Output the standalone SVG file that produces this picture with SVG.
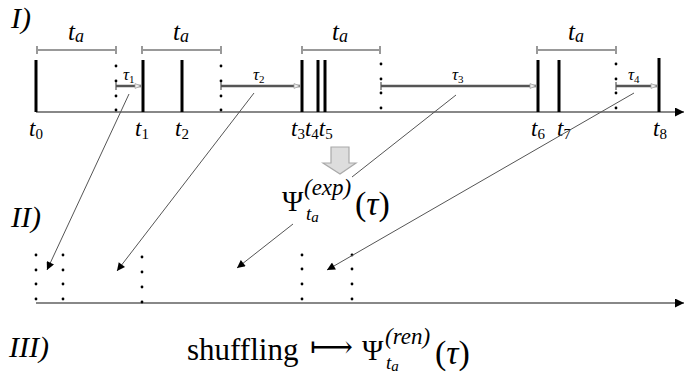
<svg xmlns="http://www.w3.org/2000/svg" width="691" height="378" viewBox="0 0 691 378">
<defs>
  <marker id="ah" viewBox="0 0 10 10" refX="10" refY="5" markerWidth="11" markerHeight="8" markerUnits="userSpaceOnUse" orient="auto">
    <path d="M0,0 L10,5 L0,10 Z" fill="#000"/>
  </marker>
  <marker id="axh" viewBox="0 0 10 10" refX="10" refY="5" markerWidth="10" markerHeight="9" markerUnits="userSpaceOnUse" orient="auto">
    <path d="M0,0 L10,5 L0,10 Z" fill="#000"/>
  </marker>
  <marker id="tah" viewBox="0 0 10 10" refX="10" refY="5" markerWidth="9" markerHeight="6" markerUnits="userSpaceOnUse" orient="auto">
    <path d="M0,1 L10,5 L0,9 Z" fill="#eee" stroke="#999" stroke-width="1.2"/>
  </marker>
</defs>
<style>
  .serif { font-family: "Liberation Serif", "DejaVu Serif", serif; fill: #000; }
  .it { font-style: italic; }
  .axis { stroke: #888; stroke-width: 2; fill: none; }
  .bar { stroke: #000; stroke-width: 3; }
  .brk { stroke: #999; stroke-width: 2; fill: none; }
  .tau { stroke: #555; stroke-width: 2.5; fill: none; }
  .tick { stroke: #777; stroke-width: 1.5; }
  .conn { stroke: #555; stroke-width: 1; fill: none; }
  .dot { fill: #000; }
</style>

<!-- section labels -->
<g id="labels-sections" class="serif it" font-size="30">
  <text x="11" y="28">I)</text>
  <text x="11" y="227">II)</text>
  <text x="9" y="357">III)</text>
</g>

<!-- timeline I -->
<g id="timeline-I">
  <line class="axis" x1="36" y1="112" x2="684" y2="112" marker-end="url(#axh)"/>
  <g id="events" class="bar">
    <line x1="36" y1="60" x2="36" y2="112"/>
    <line x1="143" y1="60" x2="143" y2="112"/>
    <line x1="182" y1="60" x2="182" y2="112"/>
    <line x1="302" y1="60" x2="302" y2="112"/>
    <line x1="318" y1="60" x2="318" y2="112"/>
    <line x1="325" y1="60" x2="325" y2="112"/>
    <line x1="538" y1="60" x2="538" y2="112"/>
    <line x1="559" y1="60" x2="559" y2="112"/>
    <line x1="659" y1="58" x2="659" y2="112"/>
  </g>
  <g id="event-labels" class="serif it" font-size="23">
    <text x="29" y="136">t<tspan font-size="15" dy="3" font-style="normal">0</tspan></text>
    <text x="135" y="136">t<tspan font-size="15" dy="3" font-style="normal">1</tspan></text>
    <text x="175" y="136">t<tspan font-size="15" dy="3" font-style="normal">2</tspan></text>
    <text x="291" y="136">t<tspan font-size="15" dy="3" font-style="normal">3</tspan><tspan dy="-3">t</tspan><tspan font-size="15" dy="3" font-style="normal">4</tspan><tspan dy="-3">t</tspan><tspan font-size="15" dy="3" font-style="normal">5</tspan></text>
    <text x="531" y="136">t<tspan font-size="15" dy="3" font-style="normal">6</tspan></text>
    <text x="557" y="136">t<tspan font-size="15" dy="3" font-style="normal">7</tspan></text>
    <text x="653" y="136">t<tspan font-size="15" dy="3" font-style="normal">8</tspan></text>
  </g>
  <g id="windows">
    <g class="brk">
      <path d="M37,50 H116 M37,46 V54 M116,46 V54"/>
      <path d="M142,50 H221 M142,46 V54 M221,46 V54"/>
      <path d="M302,50 H380 M302,46 V54 M380,46 V54"/>
      <path d="M537,50 H616 M537,46 V54 M616,46 V54"/>
    </g>
    <g class="serif it" font-size="25" text-anchor="middle">
      <text x="76" y="40">t<tspan font-size="18" dy="2">a</tspan></text>
      <text x="181" y="40">t<tspan font-size="18" dy="2">a</tspan></text>
      <text x="340" y="40">t<tspan font-size="18" dy="2">a</tspan></text>
      <text x="576" y="40">t<tspan font-size="18" dy="2">a</tspan></text>
    </g>
  </g>
  <g id="window-ends" class="dot">
    <circle cx="116" cy="66" r="1.4"/><circle cx="116" cy="81" r="1.4"/><circle cx="116" cy="96" r="1.4"/><circle cx="116" cy="110" r="1.4"/>
    <circle cx="221" cy="66" r="1.4"/><circle cx="221" cy="81" r="1.4"/><circle cx="221" cy="96" r="1.4"/><circle cx="221" cy="110" r="1.4"/>
    <circle cx="381" cy="64" r="1.4"/><circle cx="381" cy="79" r="1.4"/><circle cx="381" cy="93" r="1.4"/><circle cx="381" cy="108" r="1.4"/>
    <circle cx="616" cy="64" r="1.4"/><circle cx="616" cy="79" r="1.4"/><circle cx="616" cy="93" r="1.4"/><circle cx="616" cy="108" r="1.4"/>
  </g>
  <g id="waiting-times">
    <g class="tick">
      <line x1="116" y1="82" x2="116" y2="90"/>
      <line x1="221" y1="82" x2="221" y2="90"/>
      <line x1="381" y1="82" x2="381" y2="90"/>
      <line x1="616" y1="82" x2="616" y2="90"/>
    </g>
    <g class="tau">
      <line x1="116" y1="86" x2="141" y2="86" marker-end="url(#tah)"/>
      <line x1="221" y1="86" x2="300" y2="86" marker-end="url(#tah)"/>
      <line x1="381" y1="86" x2="536" y2="86" marker-end="url(#tah)"/>
      <line x1="616" y1="86" x2="657" y2="86" marker-end="url(#tah)"/>
    </g>
    <g class="serif it" font-size="17">
      <text x="123" y="80">τ<tspan font-size="11" dy="3" font-style="normal">1</tspan></text>
      <text x="253" y="80">τ<tspan font-size="11" dy="3" font-style="normal">2</tspan></text>
      <text x="452" y="80">τ<tspan font-size="11" dy="3" font-style="normal">3</tspan></text>
      <text x="628" y="80">τ<tspan font-size="11" dy="3" font-style="normal">4</tspan></text>
    </g>
  </g>
</g>

<!-- block arrow and Psi exp -->
<g id="block-arrow">
  <path d="M331,147 H349 V163 H356 L340,174 L323,163 H331 Z" fill="#ddd" stroke="#aaa" stroke-width="1.2"/>
</g>
<g id="psi-exp" class="serif">
  <text x="282" y="211" font-size="29">Ψ</text>
  <text x="304" y="195" font-size="23" class="it">(exp)</text>
  <text x="306" y="220" font-size="19" class="it">t<tspan font-size="15" dy="2">a</tspan></text>
  <text x="355" y="215" font-size="34">(<tspan class="it">τ</tspan>)</text>
</g>

<!-- timeline II -->
<g id="timeline-II">
  <line class="axis" x1="36" y1="303" x2="684" y2="303" marker-end="url(#axh)"/>
  <g class="dot">
    <circle cx="36" cy="255" r="1.4"/><circle cx="36" cy="270" r="1.4"/><circle cx="36" cy="284" r="1.4"/><circle cx="36" cy="299" r="1.4"/>
    <circle cx="63" cy="255" r="1.4"/><circle cx="63" cy="270" r="1.4"/><circle cx="63" cy="284" r="1.4"/><circle cx="63" cy="299" r="1.4"/>
    <circle cx="142" cy="257" r="1.4"/><circle cx="142" cy="272" r="1.4"/><circle cx="142" cy="287" r="1.4"/><circle cx="142" cy="302" r="1.4"/>
    <circle cx="302" cy="255" r="1.4"/><circle cx="302" cy="269" r="1.4"/><circle cx="302" cy="284" r="1.4"/><circle cx="302" cy="299" r="1.4"/>
    <circle cx="352" cy="255" r="1.4"/><circle cx="352" cy="269" r="1.4"/><circle cx="352" cy="284" r="1.4"/><circle cx="352" cy="299" r="1.4"/>
  </g>
</g>

<!-- connectors -->
<g id="connectors" class="conn">
  <line x1="129" y1="94" x2="47" y2="270" marker-end="url(#ah)"/>
  <line x1="254" y1="93" x2="117" y2="271" marker-end="url(#ah)"/>
  <line x1="456" y1="95" x2="352" y2="177"/>
  <line x1="293" y1="224" x2="237" y2="268" marker-end="url(#ah)"/>
  <line x1="634" y1="93" x2="327" y2="270" marker-end="url(#ah)"/>
</g>

<!-- section III -->
<g id="shuffling" class="serif">
  <text x="187" y="360" font-size="31">shuffling</text>
  <text x="310" y="357" font-size="30" font-family="DejaVu Serif, serif">⟼</text>
  <text x="362" y="360" font-size="29">Ψ</text>
  <text x="385" y="344" font-size="23" class="it">(ren)</text>
  <text x="386" y="369" font-size="19" class="it">t<tspan font-size="15" dy="2">a</tspan></text>
  <text x="435" y="364" font-size="34">(<tspan class="it">τ</tspan>)</text>
</g>
</svg>
